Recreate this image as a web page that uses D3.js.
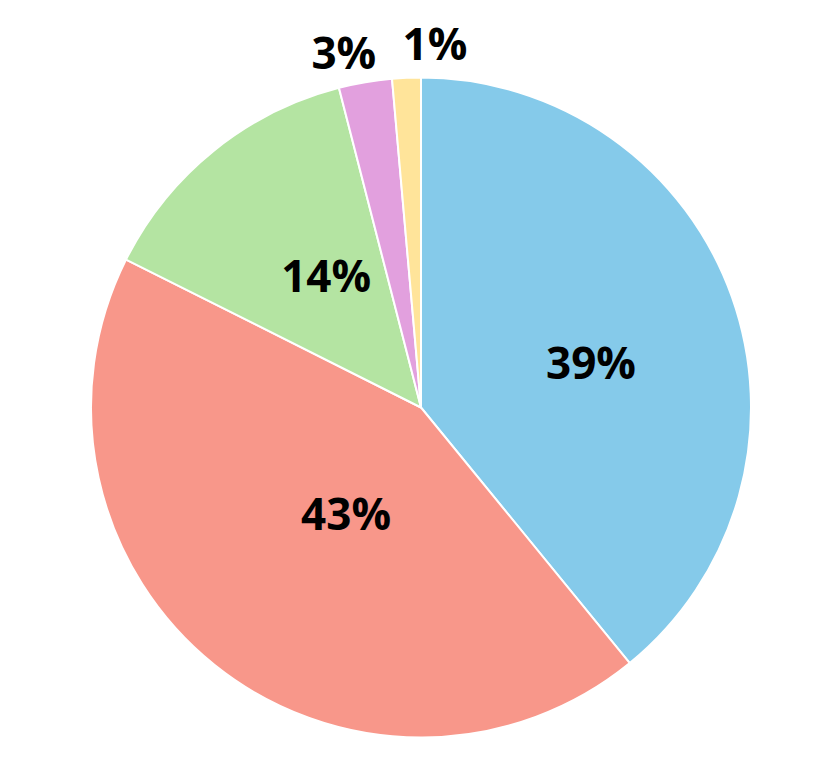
<!DOCTYPE html>
<html>
<head>
<meta charset="utf-8">
<script src="https://cdn.jsdelivr.net/npm/d3@7"></script>
<style>
  html, body { margin: 0; padding: 0; background: #fff; }
</style>
</head>
<body>
<div id="pie"></div>
<script>
// 1. Data
const categories = ["A", "B", "C", "D", "E"];
const shares = [39.1, 43.3, 13.6, 2.6, 1.4];
const colors = ["#85caea", "#f8978a", "#b4e4a2", "#e2a0de", "#ffe49a"];

// label placement (angle in degrees clockwise from top, radius as fraction of pie radius)
const labelAngle = [75.5, 215.0, 324.1, 347.7, 2.2];
const labelRadius = [0.532, 0.396, 0.49, 1.098, 1.101];

// 2. Dimensions
const dimensions = {
  width: 830,
  height: 764,
  cx: 421,
  cy: 407.5,
  radius: 330,
};

// 3. Canvas
const wrapper = d3.select("#pie")
  .append("svg")
    .attr("width", dimensions.width)
    .attr("height", dimensions.height);

const bounds = wrapper.append("g")
  .attr("transform", `translate(${dimensions.cx}, ${dimensions.cy})`);

// 4. Layout
const dataset = categories.map((c, i) => ({ name: c, value: shares[i], i }));

const pie = d3.pie()
  .value(d => d.value)
  .sort(null);

const arc = d3.arc()
  .innerRadius(0)
  .outerRadius(dimensions.radius);

const color = d3.scaleOrdinal()
  .domain(categories)
  .range(colors);

// 5. Draw
const arcs = pie(dataset);

bounds.selectAll("path")
  .data(arcs)
  .join("path")
    .attr("d", arc)
    .attr("fill", d => color(d.data.name))
    .attr("stroke", "#fff")
    .attr("stroke-width", 2);

const total = d3.sum(shares);

bounds.selectAll("text")
  .data(arcs)
  .join("text")
    .attr("x", d => Math.sin(labelAngle[d.index] * Math.PI / 180) * labelRadius[d.index] * dimensions.radius)
    .attr("y", d => -Math.cos(labelAngle[d.index] * Math.PI / 180) * labelRadius[d.index] * dimensions.radius)
    .attr("dy", "0.35em")
    .attr("text-anchor", "middle")
    .style("font-family", "'Open Sans', 'Noto Sans', sans-serif")
    .style("font-weight", "bold")
    .style("font-size", "44px")
    .attr("fill", "#000")
    .text(d => Math.round(d.data.value / total * 100) + "%");
</script>
</body>
</html>
